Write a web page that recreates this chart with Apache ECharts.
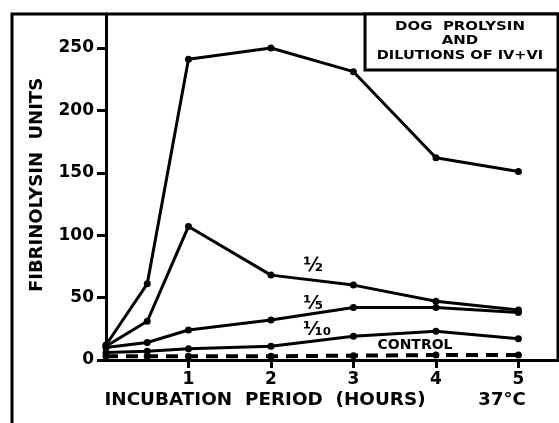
<!DOCTYPE html>
<html><head><meta charset="utf-8">
<script src="https://cdn.jsdelivr.net/npm/echarts@6/dist/echarts.min.js"></script>
<style>html,body{margin:0;padding:0;background:#fff}#c{width:559px;height:423px}</style>
</head><body><div id="c"></div>
<script>
const hours = [0, 0.5, 1, 2, 3, 4, 5];
const xTickLabels = ['1', '2', '3', '4', '5'];
const yTickValues = [0, 50, 100, 150, 200, 250];
const undiluted = [12, 61, 241, 250, 231, 162, 151];
const half = [11, 31, 107, 68, 60, 47, 40];
const fifth = [10, 14, 24, 32, 42, 42, 38];
const tenth = [6, 7, 9, 11, 19, 23, 17];
const control = [3, 3, 3, 3, 3.5, 4, 4];
const seriesNames = ['Dog prolysin', '½', '⅕', '⅒', 'CONTROL'];

const F = '"DejaVu Sans", "Liberation Sans", sans-serif';
const chart = echarts.init(document.getElementById('c'), null, {renderer: 'canvas'});
const pairs = arr => hours.map((h, i) => [h, arr[i]]);
const lineSeries = (name, arr, dashed) => ({
  name, type: 'line', data: pairs(arr), symbol: 'circle', symbolSize: 7,
  lineStyle: {color: '#000', width: dashed ? 4 : 3, type: dashed ? [12, 8] : 'solid'},
  itemStyle: {color: '#000'}, z: 3
});
const txt = (text, x, y, size, opts) => Object.assign({
  type: 'text', x, y, z: 11,
  style: {text, font: 'bold ' + size + 'px ' + F, fill: '#000', align: 'center', verticalAlign: 'middle'}
}, opts || {});
chart.setOption({
  animation: false,
  backgroundColor: '#fff',
  grid: {left: 106, right: 1, top: 14, bottom: 63, containLabel: false},
  xAxis: {
    type: 'value', min: 0, max: 5.48, interval: 1,
    axisLine: {show: true, onZero: false, lineStyle: {color: '#000', width: 3}},
    axisTick: {show: true, length: 8, lineStyle: {color: '#000', width: 3},
      customValues: [1, 2, 3, 4, 5]},
    axisLabel: {margin: 11, color: '#000', fontFamily: F, fontWeight: 'bold', fontSize: 17,
      customValues: [1, 2, 3, 4, 5], formatter: v => xTickLabels[Math.round(v) - 1] || ''},
    splitLine: {show: false}
  },
  yAxis: {
    type: 'value', min: 0, max: 277.2, interval: 50,
    axisLine: {show: true, lineStyle: {color: '#000', width: 3}},
    axisTick: {show: true, length: 9, lineStyle: {color: '#000', width: 3}, customValues: yTickValues},
    axisLabel: {margin: 12, color: '#000', fontFamily: F, fontWeight: 'bold', fontSize: 17,
      customValues: yTickValues, showMaxLabel: true},
    splitLine: {show: false}
  },
  series: [
    lineSeries(seriesNames[0], undiluted),
    lineSeries(seriesNames[1], half),
    lineSeries(seriesNames[2], fifth),
    lineSeries(seriesNames[3], tenth),
    lineSeries(seriesNames[4], control, true)
  ],
  graphic: [
    {type: 'polyline', shape: {points: [[12, 423], [12, 14], [558, 14], [558, 360]]},
      style: {stroke: '#000', lineWidth: 3, fill: null}, silent: true},
    {type: 'rect', shape: {x: 365, y: 14, width: 193, height: 56},
      style: {stroke: '#000', lineWidth: 3, fill: '#fff'}, z: 10},
    txt('DOG  PROLYSIN', 460, 27, 13, {scaleX: 1.15}),
    txt('AND', 460, 41, 13, {scaleX: 1.15}),
    txt('DILUTIONS OF IV+VI', 460, 56, 13, {scaleX: 1.12}),
    txt('FIBRINOLYSIN  UNITS', 37, 185, 18, {rotation: Math.PI / 2}),
    txt('INCUBATION  PERIOD  (HOURS)', 265, 400, 18, {scaleX: 1.02}),
    txt('37°C', 502, 400, 18),
    txt(seriesNames[1], 313, 266, 19),
    txt(seriesNames[2], 313, 304, 19),
    txt(seriesNames[3], 317, 330, 19),
    txt('CONTROL', 415, 345, 14)
  ]
});
</script></body></html>
